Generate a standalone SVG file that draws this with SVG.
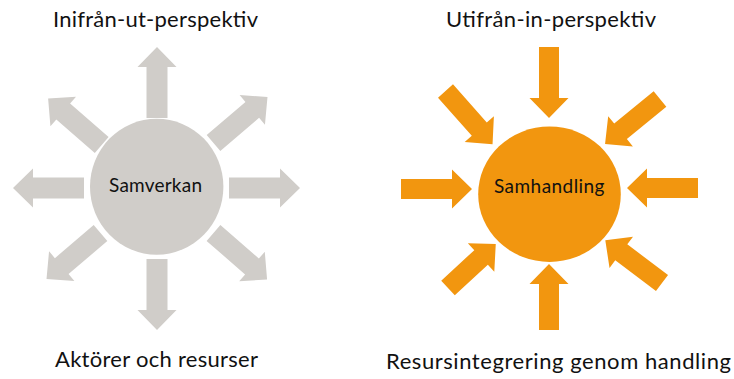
<svg xmlns="http://www.w3.org/2000/svg" xmlns:xlink="http://www.w3.org/1999/xlink" width="734" height="379" viewBox="0 0 734 379">
<style>
  .title { font-family: Lato, "Open Sans", "Liberation Sans", sans-serif; font-size: 22px; fill: #111111; }
  .label { font-family: Lato, "Open Sans", "Liberation Sans", sans-serif; font-size: 19px; fill: #111111; }
  .gray { fill: #D0CDC9; }
  .orange { fill: #F2960F; }
</style>
<defs>
  <path id="arrG" d="M0,-10.5H51V-19.5L71,0L51,19.5V10.5H0Z"/>
  <path id="arrO" d="M0,-10H51V-19.5L71,0L51,19.5V10H0Z"/>
  <path id="arrO66" d="M0,-10H46V-19.5L66,0L46,19.5V10H0Z"/>
  <path id="arrO65" d="M0,-10H45V-19.5L65,0L45,19.5V10H0Z"/>
</defs>
<rect width="734" height="379" fill="#FFFFFF"/>

<g id="connectors">
  <g id="arrows-left" class="gray">
    <use xlink:href="#arrG" transform="translate(157,118) rotate(-90)"/>
    <use xlink:href="#arrG" transform="translate(157,259) rotate(90)"/>
    <use xlink:href="#arrG" transform="translate(229,188)"/>
    <use xlink:href="#arrG" transform="translate(84,188) rotate(180)"/>
    <use xlink:href="#arrG" transform="translate(101.7,145) rotate(-139)"/>
    <use xlink:href="#arrG" transform="translate(213.5,143) rotate(-40.5)"/>
    <use xlink:href="#arrG" transform="translate(100.5,233) rotate(139.5)"/>
    <use xlink:href="#arrG" transform="translate(213.5,233) rotate(41)"/>
  </g>
  <g id="arrows-right" class="orange">
    <use xlink:href="#arrO" transform="translate(549,47) rotate(90)"/>
    <use xlink:href="#arrO66" transform="translate(549,330) rotate(-90)"/>
    <use xlink:href="#arrO" transform="translate(401,189)"/>
    <use xlink:href="#arrO" transform="translate(698,188) rotate(180)"/>
    <use xlink:href="#arrO" transform="translate(445.5,91) rotate(48.5)"/>
    <use xlink:href="#arrO" transform="translate(660,99) rotate(140.7)"/>
    <use xlink:href="#arrO65" transform="translate(448,288) rotate(-42.7)"/>
    <use xlink:href="#arrO" transform="translate(662,283) rotate(-143)"/>
  </g>
</g>

<g id="node-samverkan">
  <ellipse class="gray" cx="156.7" cy="186.7" rx="66.7" ry="68"/>
  <text class="label" x="109" y="191.5" textLength="93">Samverkan</text>
</g>
<g id="node-samhandling">
  <ellipse class="orange" cx="549.5" cy="194.2" rx="71.3" ry="67.7"/>
  <text class="label" x="494" y="192.5" textLength="110.5">Samhandling</text>
</g>

<g id="node-title-left">
  <text class="title" x="53" y="27" textLength="205">Inifrån-ut-perspektiv</text>
</g>
<g id="node-caption-left">
  <text class="title" x="55" y="367" textLength="203">Aktörer och resurser</text>
</g>
<g id="node-title-right">
  <text class="title" x="446" y="27" textLength="210">Utifrån-in-perspektiv</text>
</g>
<g id="node-caption-right">
  <text class="title" x="386" y="369" textLength="345">Resursintegrering genom handling</text>
</g>
</svg>
